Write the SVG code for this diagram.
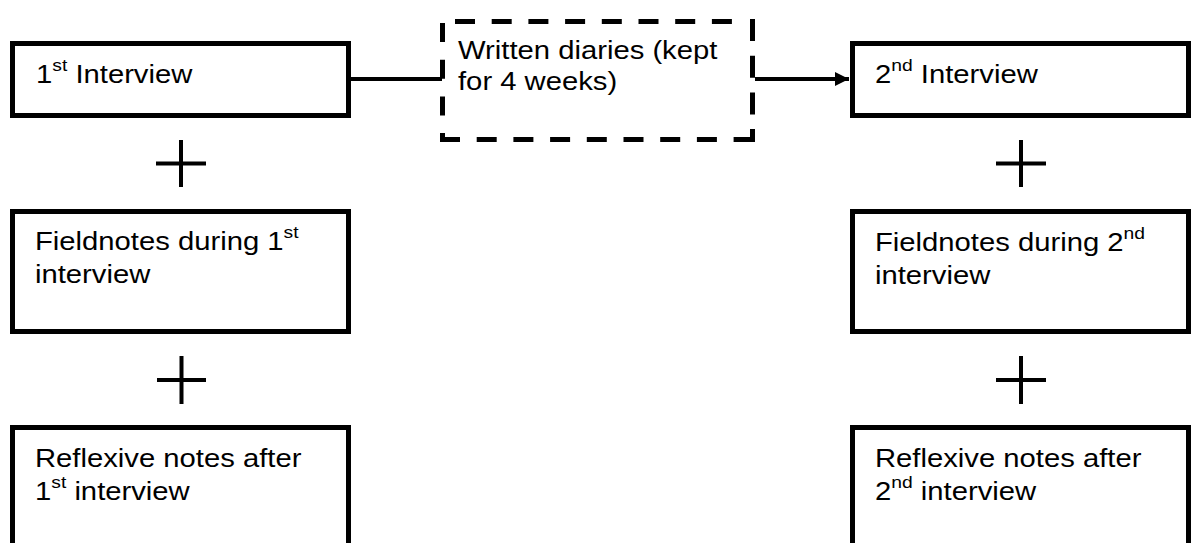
<svg xmlns="http://www.w3.org/2000/svg" width="1196" height="543" viewBox="0 0 1196 543">
  <style>
    .box { fill: #fff; stroke: #000; stroke-width: 5; }
    .dash { fill: none; stroke: #000; stroke-width: 5; stroke-dasharray: 20 16.7; }
    .plus { fill: none; stroke: #000; stroke-width: 4; }
    .conn { fill: none; stroke: #000; stroke-width: 4; }
    .lbl { font-family: "Liberation Sans", Arial, sans-serif; font-size: 25px; fill: #000; }
    .sup { font-size: 16.5px; }
  </style>
  <defs>
    <marker id="arrow" markerUnits="userSpaceOnUse" markerWidth="15" markerHeight="15" refX="14" refY="7" orient="auto">
      <path d="M0,0 L14,7 L0,14 z" fill="#000"/>
    </marker>
  </defs>

  <rect width="1196" height="543" fill="#fff"/>

  <!-- connectors -->
  <g id="connectors">
    <path class="conn" d="M351,79 H442"/>
    <path class="conn" d="M755,79 H849" marker-end="url(#arrow)"/>
  </g>

  <!-- first interview column -->
  <g id="interview1">
    <rect class="box" x="12.5" y="43.5" width="336" height="72"/>
    <g transform="translate(36,83) scale(1.17,1)">
      <text class="lbl" x="0" y="0">1<tspan class="sup" dy="-12">st</tspan><tspan dy="12"> Interview</tspan></text>
    </g>
  </g>
  <g id="plus-left-1">
    <path class="plus" d="M156,163.5 H206 M181,140 V187"/>
  </g>
  <g id="fieldnotes1">
    <rect class="box" x="12.5" y="211.5" width="336" height="120"/>
    <g transform="translate(35,250) scale(1.17,1)">
      <text class="lbl" x="0" y="0">Fieldnotes during 1<tspan class="sup" dy="-12">st</tspan></text>
      <text class="lbl" x="0" y="33">interview</text>
    </g>
  </g>
  <g id="plus-left-2">
    <path class="plus" d="M157,380 H206 M181.5,356 V404"/>
  </g>
  <g id="reflexive1">
    <rect class="box" x="12.5" y="427.5" width="336" height="200"/>
    <g transform="translate(35,467) scale(1.17,1)">
      <text class="lbl" x="0" y="0">Reflexive notes after</text>
      <text class="lbl" x="0" y="33">1<tspan class="sup" dy="-12">st</tspan><tspan dy="12"> interview</tspan></text>
    </g>
  </g>

  <!-- diaries between interviews -->
  <g id="diaries">
    <rect x="442.5" y="21.5" width="310" height="118" fill="#fff"/>
    <path class="dash" d="M455,21.5 H740"/>
    <path class="dash" d="M752.5,19 V142" style="stroke-dasharray: 22 14.7"/>
    <path class="dash" d="M440,139.5 H755"/>
    <path class="dash" d="M442.5,23 V142" style="stroke-dasharray: 19 17.7"/>
    <g transform="translate(458,59) scale(1.17,1)">
      <text class="lbl" x="0" y="0">Written diaries (kept</text>
      <text class="lbl" x="0" y="31">for 4 weeks)</text>
    </g>
  </g>

  <!-- second interview column -->
  <g id="interview2">
    <rect class="box" x="852.5" y="43.5" width="336" height="72"/>
    <g transform="translate(875,83) scale(1.17,1)">
      <text class="lbl" x="0" y="0">2<tspan class="sup" dy="-12">nd</tspan><tspan dy="12"> Interview</tspan></text>
    </g>
  </g>
  <g id="plus-right-1">
    <path class="plus" d="M996,163.5 H1046 M1021,140 V187"/>
  </g>
  <g id="fieldnotes2">
    <rect class="box" x="852.5" y="211.5" width="336" height="120"/>
    <g transform="translate(875,251) scale(1.17,1)">
      <text class="lbl" x="0" y="0">Fieldnotes during 2<tspan class="sup" dy="-12">nd</tspan></text>
      <text class="lbl" x="0" y="33">interview</text>
    </g>
  </g>
  <g id="plus-right-2">
    <path class="plus" d="M996,380 H1046 M1021,356 V404"/>
  </g>
  <g id="reflexive2">
    <rect class="box" x="852.5" y="427.5" width="336" height="200"/>
    <g transform="translate(875,467) scale(1.17,1)">
      <text class="lbl" x="0" y="0">Reflexive notes after</text>
      <text class="lbl" x="0" y="33">2<tspan class="sup" dy="-12">nd</tspan><tspan dy="12"> interview</tspan></text>
    </g>
  </g>
</svg>
